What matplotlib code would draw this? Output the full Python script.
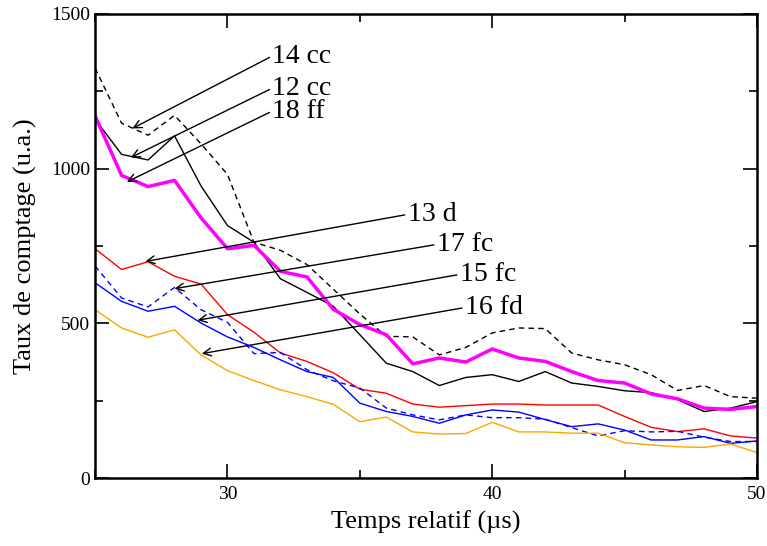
import matplotlib
matplotlib.use("Agg")
import matplotlib.pyplot as plt
from matplotlib.ticker import MultipleLocator

plt.rcParams['font.family'] = ['Liberation Serif', 'DejaVu Serif']

# time axis (us)
t = list(range(25, 51))

# count rates (a.u.)
cc14 = [1325, 1147, 1108, 1172, 1080, 981, 762, 736, 690, 610, 530, 458, 456, 398, 422,
        469, 485, 483, 404, 382, 366, 334, 283, 299, 263, 258]
cc12 = [1160, 1046, 1028, 1106, 944, 816, 762, 644, 600, 555, 463, 371, 344, 299, 325,
        334, 312, 344, 307, 296, 282, 276, 253, 215, 226, 247]
ff18 = [1170, 978, 942, 962, 841, 741, 752, 668, 650, 545, 496, 463, 369, 388, 375,
        417, 388, 377, 344, 315, 307, 272, 256, 226, 222, 231]
d13 = [741, 674, 699, 652, 627, 528, 471, 404, 377, 340, 287, 274, 239, 229, 234,
       239, 239, 236, 236, 236, 199, 164, 150, 159, 136, 129]
fc17 = [685, 582, 553, 616, 544, 503, 402, 406, 350, 314, 291, 226, 204, 188, 204,
        195, 195, 190, 163, 136, 153, 149, 151, 132, 118, 118]
fc15 = [631, 571, 539, 555, 501, 456, 422, 382, 344, 325, 242, 215, 199, 177, 204,
        220, 213, 189, 166, 175, 155, 123, 123, 134, 112, 120]
fd16 = [544, 485, 455, 479, 398, 347, 315, 285, 263, 238, 182, 197, 149, 142, 144,
        180, 149, 149, 145, 145, 114, 107, 101, 99, 110, 82]

# label, arrow tip, text position
labels = ["14 cc", "12 cc", "18 ff", "13 d", "17 fc", "15 fc", "16 fd"]
tips = [(26.41, 1130), (26.35, 1036), (26.2, 957), (26.9, 700), (28.0, 612),
        (28.87, 510), (29.03, 402)]
text_pos = [(31.69, 1364), (31.69, 1260), (31.69, 1186), (36.8, 852), (37.9, 755),
            (38.77, 658), (38.96, 551)]

fig = plt.figure(figsize=(7.67, 5.46), dpi=100)
ax = fig.add_axes([0.124, 0.1245, 0.863, 0.85])

ax.plot(t, cc14, color='black', lw=1, ls=(0, (4, 3)))
ax.plot(t, cc12, color='black', lw=1)
ax.plot(t, ff18, color='#ff00ff', lw=2.5)
ax.plot(t, d13, color='#ff0000', lw=1)
ax.plot(t, fc17, color='#0000ff', lw=1, ls=(0, (4, 3)))
ax.plot(t, fc15, color='#0000ff', lw=1)
ax.plot(t, fd16, color='#ffa500', lw=1)

for lab, tip, pos in zip(labels, tips, text_pos):
    ax.annotate(lab, xy=tip, xytext=pos, ha='left', va='center', fontsize=20,
                arrowprops=dict(arrowstyle='->', color='black', lw=1,
                                shrinkA=0, shrinkB=0, relpos=(0, 0.5),
                                mutation_scale=14))

ax.set_xlim(25, 50)
ax.set_ylim(0, 1500)
ax.xaxis.set_major_locator(MultipleLocator(10))
ax.xaxis.set_minor_locator(MultipleLocator(5))
ax.yaxis.set_major_locator(MultipleLocator(500))
ax.yaxis.set_minor_locator(MultipleLocator(250))
ax.tick_params(which='both', direction='in', top=True, right=True, labelsize=14, width=1.2)
ax.tick_params(which='major', length=10)
ax.tick_params(which='minor', length=6)
ax.tick_params(axis='x', pad=6)
for s in ax.spines.values():
    s.set_linewidth(1.8)

ax.set_xlabel("Temps relatif (µs)", fontsize=19, labelpad=5)
ax.set_ylabel("Taux de comptage (u.a.)", fontsize=19, labelpad=10)

fig.savefig("out.png", dpi=100)
